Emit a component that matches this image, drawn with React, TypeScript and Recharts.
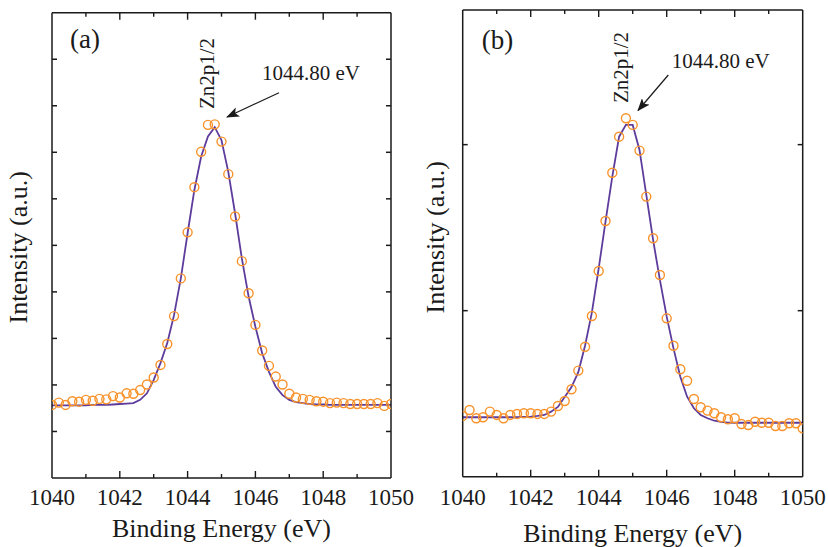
import { ComposedChart, Line, Scatter, XAxis, YAxis } from "recharts"

// binding energy grid (eV), shared by both panels
const energy = [
  1040, 1040.2, 1040.4, 1040.6, 1040.8, 1041, 1041.2, 1041.4, 1041.6, 1041.8,
  1042, 1042.2, 1042.4, 1042.6, 1042.8, 1043, 1043.2, 1043.4, 1043.6, 1043.8,
  1044, 1044.2, 1044.4, 1044.6, 1044.8, 1045, 1045.2, 1045.4, 1045.6, 1045.8,
  1046, 1046.2, 1046.4, 1046.6, 1046.8, 1047, 1047.2, 1047.4, 1047.6, 1047.8,
  1048, 1048.2, 1048.4, 1048.6, 1048.8, 1049, 1049.2, 1049.4, 1049.6, 1049.8, 1050,
]

// panel (a)
const measuredA = [
  1.57, 1.62, 1.57, 1.65, 1.64, 1.68, 1.66, 1.7, 1.69, 1.76,
  1.73, 1.82, 1.81, 1.89, 2.01, 2.16, 2.43, 2.88, 3.48, 4.29,
  5.28, 6.25, 7.01, 7.59, 7.6, 7.23, 6.53, 5.62, 4.66, 3.97,
  3.29, 2.74, 2.41, 2.18, 2.01, 1.81, 1.73, 1.7, 1.68, 1.65,
  1.64, 1.61, 1.62, 1.61, 1.59, 1.59, 1.59, 1.59, 1.61, 1.55, 1.59,
]
const fitA = [
  1.56, 1.56, 1.56, 1.56, 1.56, 1.56, 1.57, 1.57, 1.57, 1.58,
  1.59, 1.6, 1.61, 1.68, 1.82, 2.11, 2.47, 2.9, 3.5, 4.29,
  5.26, 6.19, 6.91, 7.34, 7.54, 7.26, 6.58, 5.69, 4.72, 3.9,
  3.25, 2.68, 2.28, 1.96, 1.78, 1.68, 1.63, 1.61, 1.59, 1.58,
  1.58, 1.57, 1.57, 1.57, 1.57, 1.57, 1.57, 1.57, 1.57, 1.57, 1.57,
]

// panel (b)
const measuredB = [
  0.366, 0.402, 0.352, 0.358, 0.392, 0.372, 0.352, 0.372, 0.378, 0.382,
  0.382, 0.378, 0.378, 0.392, 0.426, 0.456, 0.527, 0.639, 0.783, 0.968,
  1.239, 1.54, 1.831, 2.048, 2.159, 2.119, 1.964, 1.687, 1.436, 1.215,
  0.954, 0.789, 0.647, 0.578, 0.468, 0.418, 0.398, 0.382, 0.358, 0.346,
  0.352, 0.317, 0.311, 0.331, 0.325, 0.325, 0.305, 0.305, 0.322, 0.322, 0.292,
]
const fitB = [
  0.358, 0.358, 0.358, 0.358, 0.358, 0.358, 0.358, 0.358, 0.358, 0.36,
  0.362, 0.366, 0.372, 0.392, 0.42, 0.48, 0.54, 0.63, 0.79, 0.99,
  1.255, 1.536, 1.807, 2.048, 2.119, 2.119, 1.968, 1.697, 1.426, 1.185,
  0.964, 0.773, 0.602, 0.482, 0.412, 0.372, 0.352, 0.337, 0.33, 0.326,
  0.325, 0.325, 0.325, 0.325, 0.325, 0.325, 0.325, 0.325, 0.325, 0.325, 0.325,
]

const xTicks = [1040, 1041, 1042, 1043, 1044, 1045, 1046, 1047, 1048, 1049, 1050]
const yTicksA = [1, 2, 3, 4, 5, 6, 7, 8, 9]
const yTicksB = [1, 2]

const peakLabel = "Zn2p1/2"
const peakEnergy = "1044.80 eV"

const ORANGE = "#F8922A"
const PURPLE = "#5E3C9C"
const INK = "#1a1a1a"
const serif = "'Liberation Serif', 'Times New Roman', serif"

type Row = { e: number; meas: number; fit: number }

const buildRows = (meas: number[], fit: number[]): Row[] =>
  energy.map((e, i) => ({ e, meas: meas[i], fit: fit[i] }))

const isEdge = (v: number) => v === 1040 || v === 1050
const tickLen = (v: number) => (v % 2 === 0 ? 7 : 4)

const RingDot = (props: any) => {
  const { cx, cy } = props
  if (cx == null || cy == null) return null
  return <circle cx={cx} cy={cy} r={4.5} fill="none" stroke={ORANGE} strokeWidth={1.4} />
}

// bottom: inward tick + label on even values
const BottomTick = (props: any) => {
  const { x, y, payload, gap } = props
  const v = payload.value
  const axisY = y - gap
  return (
    <g>
      {!isEdge(v) && <line x1={x} x2={x} y1={axisY} y2={axisY - tickLen(v)} stroke={INK} strokeWidth={1.4} />}
      {v % 2 === 0 && (
        <text x={x} y={y} dy="0.71em" textAnchor="middle" fontFamily={serif} fontSize={23} fill={INK}>
          {v}
        </text>
      )}
    </g>
  )
}

// top: inward tick only
const TopTick = (props: any) => {
  const { x, y, payload } = props
  const v = payload.value
  if (isEdge(v)) return <g />
  return <line x1={x} x2={x} y1={y} y2={y + tickLen(v)} stroke={INK} strokeWidth={1.4} />
}

const NoLabel = () => <g />

interface PanelProps {
  rows: Row[]
  top: number
  right: number
  titleWidth: number
  labelHeight: number
  yDomain: [number, number]
  yTicks: number[]
  tickMargin: number
  xTitleOffset: number
  yTitleOffset: number
  yTitleDy: number
  x: number
}

const Panel = (p: PanelProps) => {
  const xDomain: [number, number] = [1040, 1050]
  return (
    <div style={{ position: "absolute", left: p.x, top: 0 }}>
      <ComposedChart
        width={414}
        height={547}
        data={p.rows}
        margin={{ top: p.top - 1, right: p.right, bottom: 0, left: 0 }}>
        <XAxis
          xAxisId="lab"
          dataKey="e"
          type="number"
          domain={xDomain}
          allowDataOverflow
          ticks={xTicks}
          interval={0}
          height={p.labelHeight}
          stroke={INK}
          strokeWidth={1.5}
          tickLine={false}
          tickSize={0}
          tickMargin={p.tickMargin}
          tick={(tp: any) => <BottomTick {...tp} gap={p.tickMargin} />}
          label={{
            value: "Binding Energy (eV)",
            position: "insideBottom",
            offset: p.xTitleOffset,
            style: { fontFamily: serif, fontSize: 26, fill: INK },
          }}
        />
        <XAxis
          xAxisId="top"
          orientation="top"
          dataKey="e"
          type="number"
          domain={xDomain}
          allowDataOverflow
          ticks={xTicks}
          interval={0}
          height={1}
          stroke={INK}
          strokeWidth={1.5}
          tickLine={false}
          tickSize={0}
          tickMargin={0}
          tick={TopTick}
        />
        {/* axis title only */}
        <YAxis
          yAxisId="title"
          type="number"
          domain={[0, 1]}
          width={p.titleWidth}
          axisLine={false}
          tickLine={false}
          tick={false}
          label={{
            value: "Intensity (a.u.)",
            angle: -90,
            position: "insideLeft",
            offset: p.yTitleOffset,
            dy: p.yTitleDy,
            style: { fontFamily: serif, fontSize: 26, fill: INK, textAnchor: "middle" },
          }}
        />
        <YAxis yAxisId="main" type="number" domain={p.yDomain} allowDataOverflow mirror
          ticks={p.yTicks} interval={0} tick={NoLabel} tickSize={5} stroke={INK} strokeWidth={1.5} />
        <YAxis yAxisId="right" orientation="right" type="number" domain={p.yDomain} allowDataOverflow mirror
          ticks={p.yTicks} interval={0} tick={NoLabel} tickSize={5} stroke={INK} strokeWidth={1.5} />
        <Scatter
          xAxisId="lab"
          yAxisId="main"
          dataKey="meas"
          shape={RingDot}
          isAnimationActive={false}
        />
        <Line
          xAxisId="lab"
          yAxisId="main"
          dataKey="fit"
          type="linear"
          stroke={PURPLE}
          strokeWidth={1.8}
          dot={false}
          activeDot={false}
          isAnimationActive={false}
        />
      </ComposedChart>
    </div>
  )
}

const Annotation = ({ tag, tagX, tagY, zx, zy, ex, ey, ax1, ay1, ax2, ay2 }: any) => (
  <g fontFamily={serif} fill={INK}>
    <text x={tagX} y={tagY} fontSize={27}>{tag}</text>
    <text x={zx} y={zy} fontSize={21} textAnchor="middle" transform={`rotate(-90, ${zx}, ${zy})`}>
      {peakLabel}
    </text>
    <text x={ex} y={ey} fontSize={21}>{peakEnergy}</text>
    <line x1={ax1} y1={ay1} x2={ax2} y2={ay2} stroke={INK} strokeWidth={1.2} markerEnd="url(#arrowHead)" />
  </g>
)

export default function App() {
  return (
    <div style={{ position: "absolute", left: 0, top: 0, width: 828, height: 547, background: "#fff" }}>
      <Panel
        x={0}
        rows={buildRows(measuredA, fitA)}
        top={12.7}
        right={23}
        titleWidth={52}
        labelHeight={69}
        yDomain={[0, 10]}
        yTicks={yTicksA}
        tickMargin={10.7}
        xTitleOffset={10.3}
        yTitleOffset={17.8}
        yTitleDy={2}
      />
      <Panel
        x={414}
        rows={buildRows(measuredB, fitB)}
        top={10}
        right={25.3}
        titleWidth={48.7}
        labelHeight={70.3}
        yDomain={[0, 2.811]}
        yTicks={yTicksB}
        tickMargin={12}
        xTitleOffset={5.5}
        yTitleOffset={20.4}
        yTitleDy={-6}
      />
      <svg width={828} height={547} style={{ position: "absolute", left: 0, top: 0, pointerEvents: "none" }}>
        <defs>
          <marker id="arrowHead" markerWidth={13} markerHeight={10} refX={12} refY={5}
            orient="auto" markerUnits="userSpaceOnUse">
            <path d="M0,0 L13,5 L0,10 L3,5 z" fill={INK} />
          </marker>
        </defs>
        <Annotation tag="(a)" tagX={70} tagY={47.6} zx={213.7} zy={73.5} ex={262} ey={80}
          ax1={279} ay1={92.7} ax2={227} ay2={117} />
        <Annotation tag="(b)" tagX={481.7} tagY={49} zx={628} zy={67.5} ex={671.7} ey={68.3}
          ax1={668.3} ay1={75} ax2={638} ay2={110.5} />
      </svg>
    </div>
  )
}
